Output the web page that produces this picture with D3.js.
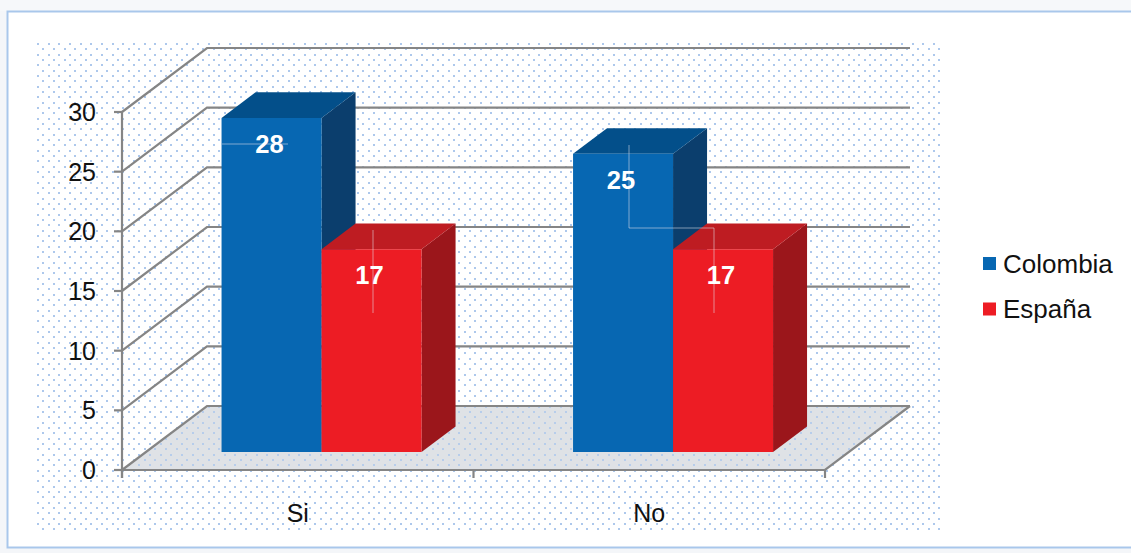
<!DOCTYPE html>
<html>
<head>
<meta charset="utf-8">
<script src="https://cdn.jsdelivr.net/npm/d3@7"></script>
<style>
  html, body { margin: 0; padding: 0; background: #f4f6f9; }
  svg { display: block; font-family: "Liberation Sans", Arial, sans-serif; }
</style>
</head>
<body>
<svg id="chart" width="1131" height="553"></svg>
<script>
// Respuestas por país
const categories = ["Si", "No"];
const series = ["Colombia", "España"];
const colombia = [28, 25];
const espana = [17, 17];
const yTicks = [0, 5, 10, 15, 20, 25, 30];

const values = { "Colombia": colombia, "España": espana };

// Face shades per series: front, top, side
const shades = {
  "Colombia": { front: "#0767b2", top: "#034f8a", side: "#0b3e6d" },
  "España":   { front: "#ed1c24", top: "#be1c22", side: "#9b161b" }
};

const svg = d3.select("#chart");

// Outer frame
svg.append("rect").attr("x", 0).attr("y", 0).attr("width", 1131).attr("height", 11)
  .attr("fill", "#f6f8fa");
svg.append("rect")
  .attr("x", 7.5).attr("y", 11.5).attr("width", 1140).attr("height", 536)
  .attr("fill", "#ffffff").attr("stroke", "#a9c7eb").attr("stroke-width", 2);

// Dotted plot background: staggered dot grid on whole pixels
const defs = svg.append("defs");
const pat = defs.append("pattern")
  .attr("id", "dots").attr("patternUnits", "userSpaceOnUse")
  .attr("x", 37).attr("y", 43).attr("width", 32).attr("height", 32);
const dotColor = "#adc8ec";
const stepA = [0, 11, 21], stepB = [5, 16, 27];
stepA.forEach(r => stepA.forEach(c => pat.append("rect").attr("x", c).attr("y", r)
  .attr("width", 2).attr("height", 2).attr("fill", dotColor)));
stepB.forEach(r => stepB.forEach(c => pat.append("rect").attr("x", c).attr("y", r)
  .attr("width", 2).attr("height", 2).attr("fill", dotColor)));

svg.append("rect").attr("x", 37).attr("y", 42).attr("width", 905).attr("height", 489)
  .attr("fill", "url(#dots)");

// Oblique projection: depth vector of the whole plot box
const DX = 85, DY = -64;
const proj = (x, y, z) => [x + DX * z, y + DY * z];

const y = d3.scaleLinear().domain([0, 30]).range([470, 112]);
const x0 = d3.scaleBand().domain(categories).range([122, 825]).paddingInner(0).paddingOuter(0);
const x1 = d3.scaleBand().domain(series).range([0, x0.bandwidth()]).paddingInner(0).paddingOuter(0.7575);

const line = d3.line();
const gridColor = "#858585";

// Floor
const floorPts = [proj(122, y(0), 0), proj(122, y(0), 1), proj(825, y(0), 1), proj(825, y(0), 0)];
svg.append("path").attr("d", line(floorPts) + "Z").attr("fill", "#dfe2e6");
svg.append("path").attr("d", line(floorPts) + "Z").attr("fill", "url(#dots)").attr("opacity", 0.8);

// Wall gridlines: left wall diagonal + back wall horizontal
yTicks.forEach(t => {
  const pts = [proj(122, y(t), 0), proj(122, y(t), 1), proj(825, y(t), 1)];
  svg.append("path").attr("d", line(pts)).attr("fill", "none")
    .attr("stroke", gridColor).attr("stroke-width", 2.2);
});
// Floor edges
svg.append("path").attr("d", line([proj(825, y(0), 1), proj(825, y(0), 0), proj(122, y(0), 0)]))
  .attr("fill", "none").attr("stroke", gridColor).attr("stroke-width", 2.2);

// Vertical axis with ticks
svg.append("line").attr("x1", 122).attr("x2", 122).attr("y1", y(30)).attr("y2", y(0) + 8)
  .attr("stroke", gridColor).attr("stroke-width", 2.2);
yTicks.forEach(t => {
  svg.append("line").attr("x1", 114).attr("x2", 122).attr("y1", y(t)).attr("y2", y(t))
    .attr("stroke", gridColor).attr("stroke-width", 2.2);
  svg.append("text").attr("x", 96).attr("y", y(t)).attr("dy", "0.36em")
    .attr("text-anchor", "end").attr("font-size", 25).attr("fill", "#111")
    .text(t);
});

// Category ticks on the floor front edge
const catEdges = [122, ...categories.map(c => x0(c) + x0.bandwidth())];
catEdges.forEach(e => {
  svg.append("line").attr("x1", e).attr("x2", e).attr("y1", y(0)).attr("y2", y(0) + 8)
    .attr("stroke", gridColor).attr("stroke-width", 2.2);
});
categories.forEach(c => {
  svg.append("text").attr("x", x0(c) + x0.bandwidth() / 2).attr("y", 522)
    .attr("text-anchor", "middle").attr("font-size", 25).attr("fill", "#111").text(c);
});

// 3D bars: depth range inside the plot box
const Z0 = 0.28, Z1 = 0.68;
const bars = [];
categories.forEach((c, i) => {
  series.forEach(s => {
    bars.push({ cat: c, s, v: values[s][i], xl: x0(c) + x1(s), xr: x0(c) + x1(s) + x1.bandwidth() });
  });
});

const barG = svg.append("g");
bars.forEach(b => {
  const sh = shades[b.s];
  const ftl = proj(b.xl, y(b.v), Z0), ftr = proj(b.xr, y(b.v), Z0);
  const fbl = proj(b.xl, y(0), Z0), fbr = proj(b.xr, y(0), Z0);
  const btl = proj(b.xl, y(b.v), Z1), btr = proj(b.xr, y(b.v), Z1);
  const bbr = proj(b.xr, y(0), Z1);
  b.front = { x: ftl[0], y: ftl[1], w: ftr[0] - ftl[0] };
  // side
  barG.append("path").attr("d", line([ftr, btr, bbr, fbr]) + "Z").attr("fill", sh.side);
  // top
  barG.append("path").attr("d", line([ftl, btl, btr, ftr]) + "Z").attr("fill", sh.top);
  // front
  barG.append("path").attr("d", line([ftl, ftr, fbr, fbl]) + "Z").attr("fill", sh.front);
});

// Faint label leader lines
const lead = svg.append("g").attr("fill", "none").attr("stroke", "rgba(225,225,235,0.55)").attr("stroke-width", 1);
lead.append("path").attr("d", "M222,144H288");
lead.append("path").attr("d", "M373,230V313");
lead.append("path").attr("d", "M629,145V228H714V313");

// Value labels
bars.forEach(b => {
  svg.append("text")
    .attr("x", b.front.x + b.front.w / 2 - 2).attr("y", b.front.y + 35)
    .attr("text-anchor", "middle").attr("font-size", 25.5).attr("font-weight", "bold")
    .attr("fill", "#ffffff").text(b.v);
});

// Legend
const legend = svg.append("g").attr("transform", "translate(983,257)");
series.forEach((s, i) => {
  const g = legend.append("g").attr("transform", `translate(0,${i * 45.5})`);
  g.append("rect").attr("width", 13).attr("height", 13).attr("fill", shades[s].front);
  g.append("text").attr("x", 20).attr("y", 15.5).attr("font-size", 26).attr("fill", "#111").text(s);
});
</script>
</body>
</html>
